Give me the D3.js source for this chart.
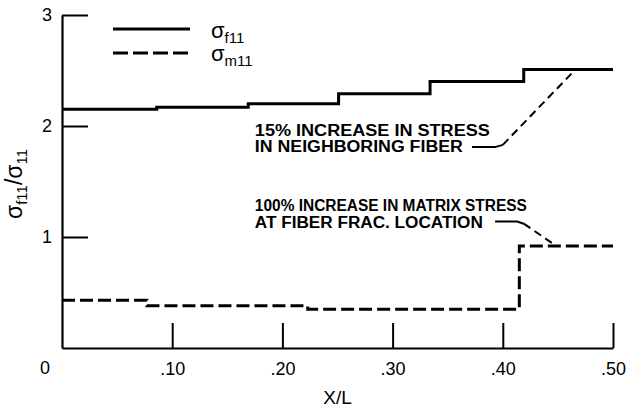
<!DOCTYPE html>
<html lang="en">
<head>
<meta charset="UTF-8">
<title>Stress ratio vs X/L</title>
<script src="https://cdn.jsdelivr.net/npm/d3@7"></script>
<style>
    body { margin: 0; background: #fff; }
    svg { display: block; font-family: "Liberation Sans", Arial, sans-serif; }
</style>
</head>
<body>
<svg width="627" height="408"></svg>
<script>
    // step positions (X/L) and levels
    var fiberX = [0, 0.086, 0.169, 0.251, 0.334, 0.419, 0.5];
    var fiberY = [2.15, 2.17, 2.20, 2.29, 2.40, 2.51];
    var matrixX = [0, 0.077, 0.223, 0.415, 0.5];
    var matrixY = [0.43, 0.38, 0.35, 0.92];

    var xTicks = [0.1, 0.2, 0.3, 0.4, 0.5];
    var xTickLabels = [".10", ".20", ".30", ".40", ".50"];
    var yTicks = [1, 2, 3];

    var note1 = ["15% INCREASE IN STRESS", "IN NEIGHBORING FIBER"];
    var note2 = ["100% INCREASE IN MATRIX STRESS", "AT FIBER FRAC. LOCATION"];

    var svg = d3.select("svg");
    var x = d3.scaleLinear().domain([0, 0.5]).range([62, 613]);
    var y = d3.scaleLinear().domain([0, 3]).range([348, 15]);

    // axes
    var xAxis = d3.axisBottom(x).tickValues(xTicks)
        .tickFormat(function (d, i) { return xTickLabels[i]; })
        .tickSize(-25).tickPadding(14).tickSizeOuter(0);
    var gx = svg.append("g").attr("transform", "translate(0," + y(0) + ")").call(xAxis);

    var yAxis = d3.axisLeft(y).tickValues(yTicks).tickFormat(d3.format("d"))
        .tickSize(-26).tickPadding(10).tickSizeOuter(0);
    var gy = svg.append("g").attr("transform", "translate(" + x(0) + ",0)").call(yAxis);

    [gx, gy].forEach(function (g) {
        g.select(".domain").attr("stroke", "#000").attr("stroke-width", 2.2);
        g.selectAll(".tick line").attr("stroke", "#000").attr("stroke-width", 2);
        g.selectAll(".tick text").attr("fill", "#000").style("font-size", "18px")
            .style("font-family", "Liberation Sans, Arial, sans-serif");
    });
    // shared origin label
    svg.append("text").attr("x", 45).attr("y", 374).attr("text-anchor", "middle")
        .style("font-size", "18px").text("0");

    // axis titles
    svg.append("text").attr("x", (x(0) + x(0.5)) / 2).attr("y", 404)
        .attr("text-anchor", "middle").style("font-size", "19px").text("X/L");

    var yl = svg.append("text").attr("transform", "translate(22,184) rotate(-90)")
        .attr("text-anchor", "middle").style("font-size", "23px");
    yl.append("tspan").text("σ");
    yl.append("tspan").attr("dy", 5).style("font-size", "15px").text("f11");
    yl.append("tspan").attr("dy", -5).text("/σ");
    yl.append("tspan").attr("dy", 5).style("font-size", "15px").text("11");

    // step lines
    function steps(xs, ys) {
        var pts = ys.map(function (v, i) { return [xs[i], v]; });
        pts.push([xs[xs.length - 1], ys[ys.length - 1]]);
        return pts;
    }
    var line = d3.line().x(function (d) { return x(d[0]); }).y(function (d) { return y(d[1]); })
        .curve(d3.curveStepAfter);

    svg.append("path").datum(steps(fiberX, fiberY)).attr("d", line)
        .attr("fill", "none").attr("stroke", "#000").attr("stroke-width", 3);
    svg.append("path").datum(steps(matrixX, matrixY)).attr("d", line)
        .attr("fill", "none").attr("stroke", "#000").attr("stroke-width", 3)
        .attr("stroke-dasharray", "13,5");

    // legend
    var legend = svg.append("g");
    legend.append("line").attr("x1", 113).attr("x2", 190).attr("y1", 29).attr("y2", 29)
        .attr("stroke", "#000").attr("stroke-width", 3);
    legend.append("line").attr("x1", 113).attr("x2", 190).attr("y1", 53).attr("y2", 53)
        .attr("stroke", "#000").attr("stroke-width", 3).attr("stroke-dasharray", "15,5");
    [["f11", 38], ["m11", 61]].forEach(function (d) {
        var t = legend.append("text").attr("x", 211).attr("y", d[1]).style("font-size", "22px");
        t.append("tspan").text("σ");
        t.append("tspan").attr("dy", 5).style("font-size", "15px").text(d[0]);
    });

    // annotations (widths squeezed to match the condensed lettering)
    var notes = svg.append("g").style("font-size", "16px").style("font-weight", "bold");
    var widths = [[235, 208], [272, 228]];
    var rows = [[1.91, 1.766], [1.234, 1.081]];
    [note1, note2].forEach(function (lines, j) {
        lines.forEach(function (s, i) {
            notes.append("text").attr("x", x(0.175)).attr("y", y(rows[j][i]))
                .attr("textLength", widths[j][i]).attr("lengthAdjust", "spacingAndGlyphs").text(s);
        });
    });

    var lead = d3.line().x(function (d) { return x(d[0]); }).y(function (d) { return y(d[1]); });
    svg.append("path").datum([[0.372, 1.81], [0.393, 1.81], [0.40, 1.83]]).attr("d", lead)
        .attr("fill", "none").attr("stroke", "#000").attr("stroke-width", 2);
    svg.append("path").datum([[0.40, 1.83], [0.466, 2.51]]).attr("d", lead)
        .attr("fill", "none").attr("stroke", "#000").attr("stroke-width", 2)
        .attr("stroke-dasharray", "8,5");

    svg.append("path").datum([[0.393, 1.14], [0.413, 1.14], [0.419, 1.12]]).attr("d", lead)
        .attr("fill", "none").attr("stroke", "#000").attr("stroke-width", 2);
    svg.append("path").datum([[0.419, 1.12], [0.447, 0.93]]).attr("d", lead)
        .attr("fill", "none").attr("stroke", "#000").attr("stroke-width", 2)
        .attr("stroke-dasharray", "8,5");
</script>
</body>
</html>
